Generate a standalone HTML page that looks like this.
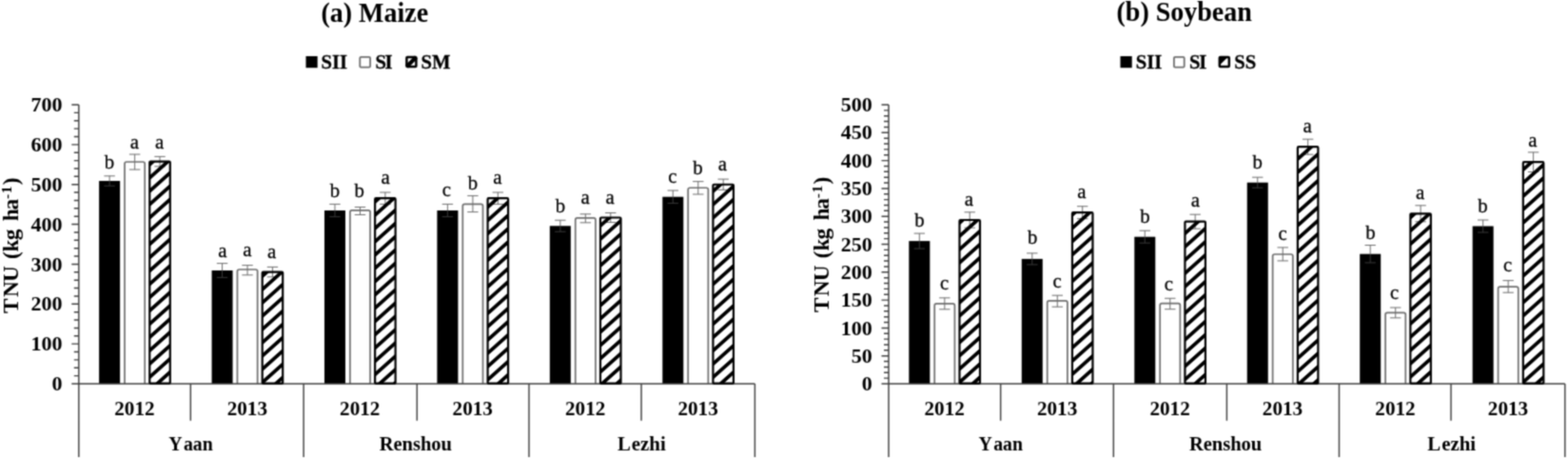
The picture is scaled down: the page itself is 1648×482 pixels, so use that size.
<!DOCTYPE html>
<html lang="en">
<head>
<meta charset="utf-8">
<title>TNU of maize and soybean</title>
<style>
html,body{margin:0;padding:0;background:#fff;}
body{width:1648px;height:482px;overflow:hidden;}
svg{display:block;}
text{font-family:"Liberation Serif", "DejaVu Serif", serif;fill:#000;font-kerning:none;}
.title{font-size:28px;font-weight:bold;}
.leg{font-size:20px;font-weight:bold;stroke:#000;stroke-width:0.3px;}
.lab{font-size:20px;font-weight:bold;}
.loc{font-size:20.5px;font-weight:bold;}
.ytitle{font-size:22.5px;font-weight:bold;}
.sup{font-size:15px;}
.sig{font-size:20px;stroke:#000;stroke-width:0.25px;}
.axis path{fill:none;stroke:#404040;stroke-width:1.45;}
.err path{fill:none;stroke:#6c6c6c;stroke-width:1.0;}
.err .in{stroke:#383838;}
</style>
</head>
<body>
<svg width="1648" height="482" viewBox="0 0 1648 482">
<defs>
<pattern id="hatch" patternUnits="userSpaceOnUse" width="20" height="13.95" patternTransform="translate(0 4.18) matrix(1 -0.895 0 1 0 0)">
<rect x="0" y="0" width="20" height="5.0" fill="#000"/>
</pattern>
<filter id="soft" filterUnits="userSpaceOnUse" x="0" y="0" width="1648" height="482" color-interpolation-filters="sRGB"><feConvolveMatrix order="3" kernelMatrix="0.1453 0.3812 0.1453 0.3812 1.0000 0.3812 0.1453 0.3812 0.1453" divisor="3.1059" edgeMode="duplicate" preserveAlpha="true"/></filter>
</defs>
<g filter="url(#soft)">
<rect x="-10" y="-10" width="1668" height="502" fill="#fff"/>
<g class="chart">
<text class="title" transform="translate(393.75 22.6) scale(1 1.03)" text-anchor="middle">(a) Maize</text>
<rect x="321.5" y="59" width="12.2" height="12.2" fill="#000"/>
<text class="leg" transform="translate(337.5 71.8) scale(1.03 1)" text-anchor="start">SII</text>
<rect x="378.3" y="59.8" width="10.8" height="10.8" rx="1.2" fill="#fff" stroke="#6e6e6e" stroke-width="1.8"/>
<text class="leg" transform="translate(394.4 71.8) scale(1.03 1)" text-anchor="start" letter-spacing="-1.2">SI</text>
<rect x="427.4" y="60" width="10" height="10" rx="0.8" fill="#fff" stroke="#000" stroke-width="2.5"/>
<path d="M427.4 70L437.4 60" stroke="#000" stroke-width="4.2" fill="none"/>
<text class="leg" transform="translate(442.5 71.8) scale(1.03 1)" text-anchor="start">SM</text>
<text class="ytitle" transform="translate(19.3 328.9) rotate(-90) scale(1.035 1)" x="0 16.33 31.79 47.34 54.98 62.32 74.11 85.99 93.33 104.73" y="0">TNU (kg ha<tspan class="sup" x="115.75 121.35" dy="-7.5">-1</tspan><tspan x="130.05" dy="7.5">)</tspan></text>
<rect x="104.12" y="190" width="22" height="213" fill="#000"/>
<g class="err"><path d="M109.42 184.8H120.82M115.12 184.8V190"/><path class="in" d="M115.12 190V195.2M109.42 195.2H120.82"/></g>
<path d="M131.02 403V172Q131.02 170 133.02 170H150.22Q152.22 170 152.22 172V403" fill="#fff" stroke="#6e6e6e" stroke-width="1.7"/>
<g class="err"><path d="M135.92 162.05H147.32M141.62 162.05V170.05"/><path d="M141.62 170.05V178.05M135.92 178.05H147.32"/></g>
<rect x="157.27" y="169.6" width="21.5" height="233.4" fill="#fff"/>
<g class="err"><path d="M162.32 164.4H173.72M168.02 164.4V169.6"/><path d="M168.02 169.6V174.8M162.32 174.8H173.72"/></g>
<text class="sig" transform="translate(114.9 177.2) scale(1.04 1)" text-anchor="middle">b</text>
<text class="sig" transform="translate(141.25 156) scale(1.04 1)" text-anchor="middle">a</text>
<text class="sig" transform="translate(167.5 156) scale(1.04 1)" text-anchor="middle">a</text>
<rect x="222.55" y="284" width="22" height="119" fill="#000"/>
<g class="err"><path d="M227.85 276.6H239.25M233.55 276.6V284"/><path class="in" d="M233.55 284V291.4M227.85 291.4H239.25"/></g>
<path d="M249.45 403V285Q249.45 283 251.45 283H268.65Q270.65 283 270.65 285V403" fill="#fff" stroke="#6e6e6e" stroke-width="1.7"/>
<g class="err"><path d="M254.35 278.6H265.75M260.05 278.6V283.7"/><path d="M260.05 283.7V288.8M254.35 288.8H265.75"/></g>
<rect x="275.7" y="285.6" width="21.5" height="117.4" fill="#fff"/>
<g class="err"><path d="M280.75 280.4H292.15M286.45 280.4V285.6"/><path d="M286.45 285.6V290.8M280.75 290.8H292.15"/></g>
<text class="sig" transform="translate(233.75 269.75) scale(1.04 1)" text-anchor="middle">a</text>
<text class="sig" transform="translate(259.75 268.5) scale(1.04 1)" text-anchor="middle">a</text>
<text class="sig" transform="translate(285.6 271) scale(1.04 1)" text-anchor="middle">a</text>
<rect x="340.98" y="221" width="22" height="182" fill="#000"/>
<g class="err"><path d="M346.28 214.4H357.68M351.98 214.4V221"/><path class="in" d="M351.98 221V227.6M346.28 227.6H357.68"/></g>
<path d="M367.88 403V222.8Q367.88 220.8 369.88 220.8H387.08Q389.08 220.8 389.08 222.8V403" fill="#fff" stroke="#6e6e6e" stroke-width="1.7"/>
<g class="err"><path d="M372.78 217.5H384.18M378.48 217.5V221.5"/><path d="M378.48 221.5V225.5M372.78 225.5H384.18"/></g>
<rect x="394.13" y="208.2" width="21.5" height="194.8" fill="#fff"/>
<g class="err"><path d="M399.18 202H410.58M404.88 202V208.2"/><path d="M404.88 208.2V214.4M399.18 214.4H410.58"/></g>
<text class="sig" transform="translate(352 207.1) scale(1.04 1)" text-anchor="middle">b</text>
<text class="sig" transform="translate(377.7 207.1) scale(1.04 1)" text-anchor="middle">b</text>
<text class="sig" transform="translate(405 193.1) scale(1.04 1)" text-anchor="middle">a</text>
<rect x="459.42" y="221" width="22" height="182" fill="#000"/>
<g class="err"><path d="M464.72 214.4H476.12M470.42 214.4V221"/><path class="in" d="M470.42 221V227.6M464.72 227.6H476.12"/></g>
<path d="M486.32 403V216.4Q486.32 214.4 488.32 214.4H505.52Q507.52 214.4 507.52 216.4V403" fill="#fff" stroke="#6e6e6e" stroke-width="1.7"/>
<g class="err"><path d="M491.22 205.6H502.62M496.92 205.6V214.1"/><path d="M496.92 214.1V222.6M491.22 222.6H502.62"/></g>
<rect x="512.57" y="208.2" width="21.5" height="194.8" fill="#fff"/>
<g class="err"><path d="M517.62 202H529.02M523.32 202V208.2"/><path d="M523.32 208.2V214.4M517.62 214.4H529.02"/></g>
<text class="sig" transform="translate(469.4 206) scale(1.04 1)" text-anchor="middle">c</text>
<text class="sig" transform="translate(496.9 198.8) scale(1.04 1)" text-anchor="middle">b</text>
<text class="sig" transform="translate(522.75 193.1) scale(1.04 1)" text-anchor="middle">a</text>
<rect x="577.85" y="237.25" width="22" height="165.75" fill="#000"/>
<g class="err"><path d="M583.15 231.25H594.55M588.85 231.25V237.25"/><path class="in" d="M588.85 237.25V243.25M583.15 243.25H594.55"/></g>
<path d="M604.75 403V230.9Q604.75 228.9 606.75 228.9H623.95Q625.95 228.9 625.95 230.9V403" fill="#fff" stroke="#6e6e6e" stroke-width="1.7"/>
<g class="err"><path d="M609.65 224.8H621.05M615.35 224.8V229.3"/><path d="M615.35 229.3V233.8M609.65 233.8H621.05"/></g>
<rect x="631" y="228.5" width="21.5" height="174.5" fill="#fff"/>
<g class="err"><path d="M636.05 223.5H647.45M641.75 223.5V228.5"/><path d="M641.75 228.5V233.5M636.05 233.5H647.45"/></g>
<text class="sig" transform="translate(589 223.1) scale(1.04 1)" text-anchor="middle">b</text>
<text class="sig" transform="translate(615 213.5) scale(1.04 1)" text-anchor="middle">a</text>
<text class="sig" transform="translate(641 213.5) scale(1.04 1)" text-anchor="middle">a</text>
<rect x="696.28" y="206.7" width="22" height="196.3" fill="#000"/>
<g class="err"><path d="M701.58 200H712.98M707.28 200V206.7"/><path class="in" d="M707.28 206.7V213.4M701.58 213.4H712.98"/></g>
<path d="M723.18 403V199.25Q723.18 197.25 725.18 197.25H742.38Q744.38 197.25 744.38 199.25V403" fill="#fff" stroke="#6e6e6e" stroke-width="1.7"/>
<g class="err"><path d="M728.08 190.6H739.48M733.78 190.6V197.3"/><path d="M733.78 197.3V204M728.08 204H739.48"/></g>
<rect x="749.43" y="193.75" width="21.5" height="209.25" fill="#fff"/>
<g class="err"><path d="M754.48 188.15H765.88M760.18 188.15V193.75"/><path d="M760.18 193.75V199.35M754.48 199.35H765.88"/></g>
<text class="sig" transform="translate(706.9 191.9) scale(1.04 1)" text-anchor="middle">c</text>
<text class="sig" transform="translate(733.5 183.1) scale(1.04 1)" text-anchor="middle">b</text>
<text class="sig" transform="translate(759.4 179.4) scale(1.04 1)" text-anchor="middle">a</text>
<g class="axis">
<path d="M82.8 110V403M75.3 403H793.4M75.3 403H82.8M77.8 394.63H82.8M77.8 386.26H82.8M77.8 377.89H82.8M77.8 369.51H82.8M75.3 361.14H82.8M77.8 352.77H82.8M77.8 344.4H82.8M77.8 336.03H82.8M77.8 327.66H82.8M75.3 319.29H82.8M77.8 310.91H82.8M77.8 302.54H82.8M77.8 294.17H82.8M77.8 285.8H82.8M75.3 277.43H82.8M77.8 269.06H82.8M77.8 260.69H82.8M77.8 252.31H82.8M77.8 243.94H82.8M75.3 235.57H82.8M77.8 227.2H82.8M77.8 218.83H82.8M77.8 210.46H82.8M77.8 202.09H82.8M75.3 193.71H82.8M77.8 185.34H82.8M77.8 176.97H82.8M77.8 168.6H82.8M77.8 160.23H82.8M75.3 151.86H82.8M77.8 143.49H82.8M77.8 135.11H82.8M77.8 126.74H82.8M77.8 118.37H82.8M75.3 110H82.8M82.8 403V480M200.33 403V441.7M319.12 403V480M438.3 403V441.7M555.98 403V480M674.02 403V441.7M793.4 403V480"/>
</g>
<rect x="157.27" y="169.6" width="21.5" height="233.1" rx="1" fill="url(#hatch)" stroke="#000" stroke-width="2.2"/>
<rect x="275.7" y="285.6" width="21.5" height="117.1" rx="1" fill="url(#hatch)" stroke="#000" stroke-width="2.2"/>
<rect x="394.13" y="208.2" width="21.5" height="194.5" rx="1" fill="url(#hatch)" stroke="#000" stroke-width="2.2"/>
<rect x="512.57" y="208.2" width="21.5" height="194.5" rx="1" fill="url(#hatch)" stroke="#000" stroke-width="2.2"/>
<rect x="631" y="228.5" width="21.5" height="174.2" rx="1" fill="url(#hatch)" stroke="#000" stroke-width="2.2"/>
<rect x="749.43" y="193.75" width="21.5" height="208.95" rx="1" fill="url(#hatch)" stroke="#000" stroke-width="2.2"/>
<text class="lab" transform="translate(65.5 410.1) scale(1.1 1)" text-anchor="end">0</text>
<text class="lab" transform="translate(65.5 368.24) scale(1.1 1)" text-anchor="end">100</text>
<text class="lab" transform="translate(65.5 326.39) scale(1.1 1)" text-anchor="end">200</text>
<text class="lab" transform="translate(65.5 284.53) scale(1.1 1)" text-anchor="end">300</text>
<text class="lab" transform="translate(65.5 242.67) scale(1.1 1)" text-anchor="end">400</text>
<text class="lab" transform="translate(65.5 200.81) scale(1.1 1)" text-anchor="end">500</text>
<text class="lab" transform="translate(65.5 158.96) scale(1.1 1)" text-anchor="end">600</text>
<text class="lab" transform="translate(65.5 117.1) scale(1.1 1)" text-anchor="end">700</text>
<text class="lab" transform="translate(141.42 435.7) scale(1.06 1)" text-anchor="middle">2012</text>
<text class="lab" transform="translate(259.85 435.7) scale(1.06 1)" text-anchor="middle">2013</text>
<text class="lab" transform="translate(378.28 435.7) scale(1.06 1)" text-anchor="middle">2012</text>
<text class="lab" transform="translate(496.72 435.7) scale(1.06 1)" text-anchor="middle">2013</text>
<text class="lab" transform="translate(615.15 435.7) scale(1.06 1)" text-anchor="middle">2012</text>
<text class="lab" transform="translate(733.58 435.7) scale(1.06 1)" text-anchor="middle">2013</text>
<text class="loc" transform="translate(200.43 473.2) scale(0.965 1)" text-anchor="middle">Y<tspan dx="1.6">a</tspan>an</text>
<text class="loc" x="436.8" y="473.2" text-anchor="middle">Renshou</text>
<text class="loc" transform="translate(674.37 473.2) scale(1.02 1)" text-anchor="middle">L<tspan dx="0.8">e</tspan>zhi</text>
</g>
<g class="chart">
<text class="title" transform="translate(1244.7 22.4) scale(1 1.03)" text-anchor="middle">(b) Soybean</text>
<rect x="1177.5" y="59" width="12.2" height="12.2" fill="#000"/>
<text class="leg" transform="translate(1193.75 71.8) scale(1.03 1)" text-anchor="start">SII</text>
<rect x="1233.9" y="59.8" width="10.8" height="10.8" rx="1.2" fill="#fff" stroke="#6e6e6e" stroke-width="1.8"/>
<text class="leg" transform="translate(1250 71.8) scale(1.03 1)" text-anchor="start" letter-spacing="-1.2">SI</text>
<rect x="1281.8" y="60" width="10" height="10" rx="0.8" fill="#fff" stroke="#000" stroke-width="2.5"/>
<path d="M1281.8 60H1290.4L1281.8 68.6Z" fill="#000"/>
<text class="leg" transform="translate(1297.25 71.8) scale(1.03 1)" text-anchor="start">SS</text>
<text class="ytitle" transform="translate(871.4 328.1) rotate(-90) scale(1.035 1)" x="0 16.33 31.79 47.34 54.98 62.32 74.11 85.99 93.33 104.73" y="0">TNU (kg ha<tspan class="sup" x="115.75 121.35" dy="-7.5">-1</tspan><tspan x="130.05" dy="7.5">)</tspan></text>
<rect x="955.33" y="253.1" width="22" height="149.9" fill="#000"/>
<g class="err"><path d="M960.63 245.1H972.03M966.33 245.1V253.1"/><path class="in" d="M966.33 253.1V261.1M960.63 261.1H972.03"/></g>
<path d="M982.23 403V320.9Q982.23 318.9 984.23 318.9H1001.43Q1003.43 318.9 1003.43 320.9V403" fill="#fff" stroke="#6e6e6e" stroke-width="1.7"/>
<g class="err"><path d="M987.13 312.8H998.53M992.83 312.8V318.8"/><path d="M992.83 318.8V324.8M987.13 324.8H998.53"/></g>
<rect x="1008.48" y="231" width="21.5" height="172" fill="#fff"/>
<g class="err"><path d="M1013.53 222.8H1024.93M1019.23 222.8V231"/><path d="M1019.23 231V239.2M1013.53 239.2H1024.93"/></g>
<text class="sig" transform="translate(966.4 238.4) scale(1.04 1)" text-anchor="middle">b</text>
<text class="sig" transform="translate(992.5 304.2) scale(1.04 1)" text-anchor="middle">c</text>
<text class="sig" transform="translate(1018.4 215.9) scale(1.04 1)" text-anchor="middle">a</text>
<rect x="1073.8" y="271.9" width="22" height="131.1" fill="#000"/>
<g class="err"><path d="M1079.1 265.9H1090.5M1084.8 265.9V271.9"/><path class="in" d="M1084.8 271.9V277.9M1079.1 277.9H1090.5"/></g>
<path d="M1100.7 403V317.9Q1100.7 315.9 1102.7 315.9H1119.9Q1121.9 315.9 1121.9 317.9V403" fill="#fff" stroke="#6e6e6e" stroke-width="1.7"/>
<g class="err"><path d="M1105.6 310.2H1117M1111.3 310.2V316.2"/><path d="M1111.3 316.2V322.2M1105.6 322.2H1117"/></g>
<rect x="1126.95" y="223.2" width="21.5" height="179.8" fill="#fff"/>
<g class="err"><path d="M1132 216.7H1143.4M1137.7 216.7V223.2"/><path d="M1137.7 223.2V229.7M1132 229.7H1143.4"/></g>
<text class="sig" transform="translate(1085.2 255.9) scale(1.04 1)" text-anchor="middle">b</text>
<text class="sig" transform="translate(1111 301.7) scale(1.04 1)" text-anchor="middle">c</text>
<text class="sig" transform="translate(1136.9 207.5) scale(1.04 1)" text-anchor="middle">a</text>
<rect x="1192.27" y="248.7" width="22" height="154.3" fill="#000"/>
<g class="err"><path d="M1197.57 242.2H1208.97M1203.27 242.2V248.7"/><path class="in" d="M1203.27 248.7V255.2M1197.57 255.2H1208.97"/></g>
<path d="M1219.17 403V320.7Q1219.17 318.7 1221.17 318.7H1238.37Q1240.37 318.7 1240.37 320.7V403" fill="#fff" stroke="#6e6e6e" stroke-width="1.7"/>
<g class="err"><path d="M1224.07 313.3H1235.47M1229.77 313.3V319"/><path d="M1229.77 319V324.7M1224.07 324.7H1235.47"/></g>
<rect x="1245.42" y="232.7" width="21.5" height="170.3" fill="#fff"/>
<g class="err"><path d="M1250.47 225.2H1261.87M1256.17 225.2V232.7"/><path d="M1256.17 232.7V240.2M1250.47 240.2H1261.87"/></g>
<text class="sig" transform="translate(1203.4 234.2) scale(1.04 1)" text-anchor="middle">b</text>
<text class="sig" transform="translate(1228.4 304.7) scale(1.04 1)" text-anchor="middle">c</text>
<text class="sig" transform="translate(1256.4 217) scale(1.04 1)" text-anchor="middle">a</text>
<rect x="1310.73" y="191.7" width="22" height="211.3" fill="#000"/>
<g class="err"><path d="M1316.03 186.2H1327.43M1321.73 186.2V191.7"/><path class="in" d="M1321.73 191.7V197.2M1316.03 197.2H1327.43"/></g>
<path d="M1337.63 403V269Q1337.63 267 1339.63 267H1356.83Q1358.83 267 1358.83 269V403" fill="#fff" stroke="#6e6e6e" stroke-width="1.7"/>
<g class="err"><path d="M1342.53 259.9H1353.93M1348.23 259.9V266.9"/><path d="M1348.23 266.9V273.9M1342.53 273.9H1353.93"/></g>
<rect x="1363.88" y="154.2" width="21.5" height="248.8" fill="#fff"/>
<g class="err"><path d="M1368.93 146.2H1380.33M1374.63 146.2V154.2"/><path d="M1374.63 154.2V162.2M1368.93 162.2H1380.33"/></g>
<text class="sig" transform="translate(1321.7 177) scale(1.04 1)" text-anchor="middle">b</text>
<text class="sig" transform="translate(1348 251.7) scale(1.04 1)" text-anchor="middle">c</text>
<text class="sig" transform="translate(1374.2 138.7) scale(1.04 1)" text-anchor="middle">a</text>
<rect x="1429.2" y="266.7" width="22" height="136.3" fill="#000"/>
<g class="err"><path d="M1434.5 257.5H1445.9M1440.2 257.5V266.7"/><path class="in" d="M1440.2 266.7V275.9M1434.5 275.9H1445.9"/></g>
<path d="M1456.1 403V330.3Q1456.1 328.3 1458.1 328.3H1475.3Q1477.3 328.3 1477.3 330.3V403" fill="#fff" stroke="#6e6e6e" stroke-width="1.7"/>
<g class="err"><path d="M1461 323H1472.4M1466.7 323V328.4"/><path d="M1466.7 328.4V333.8M1461 333.8H1472.4"/></g>
<rect x="1482.35" y="224.3" width="21.5" height="178.7" fill="#fff"/>
<g class="err"><path d="M1487.4 215.8H1498.8M1493.1 215.8V224.3"/><path d="M1493.1 224.3V232.8M1487.4 232.8H1498.8"/></g>
<text class="sig" transform="translate(1440.5 250.8) scale(1.04 1)" text-anchor="middle">b</text>
<text class="sig" transform="translate(1465.5 313.7) scale(1.04 1)" text-anchor="middle">c</text>
<text class="sig" transform="translate(1492.7 208.7) scale(1.04 1)" text-anchor="middle">a</text>
<rect x="1547.67" y="237.5" width="22" height="165.5" fill="#000"/>
<g class="err"><path d="M1552.97 231H1564.37M1558.67 231V237.5"/><path class="in" d="M1558.67 237.5V244M1552.97 244H1564.37"/></g>
<path d="M1574.57 403V303.2Q1574.57 301.2 1576.57 301.2H1593.77Q1595.77 301.2 1595.77 303.2V403" fill="#fff" stroke="#6e6e6e" stroke-width="1.7"/>
<g class="err"><path d="M1579.47 294.6H1590.87M1585.17 294.6V300.9"/><path d="M1585.17 300.9V307.2M1579.47 307.2H1590.87"/></g>
<rect x="1600.82" y="170.2" width="21.5" height="232.8" fill="#fff"/>
<g class="err"><path d="M1605.87 159.9H1617.27M1611.57 159.9V170.2"/><path d="M1611.57 170.2V180.5M1605.87 180.5H1617.27"/></g>
<text class="sig" transform="translate(1558.5 222.5) scale(1.04 1)" text-anchor="middle">b</text>
<text class="sig" transform="translate(1584.7 285.3) scale(1.04 1)" text-anchor="middle">c</text>
<text class="sig" transform="translate(1610.8 154.2) scale(1.04 1)" text-anchor="middle">a</text>
<g class="axis">
<path d="M934 110V403M926.5 403H1644.8M926.5 403H934M929 397.14H934M929 391.28H934M929 385.42H934M929 379.56H934M926.5 373.7H934M929 367.84H934M929 361.98H934M929 356.12H934M929 350.26H934M926.5 344.4H934M929 338.54H934M929 332.68H934M929 326.82H934M929 320.96H934M926.5 315.1H934M929 309.24H934M929 303.38H934M929 297.52H934M929 291.66H934M926.5 285.8H934M929 279.94H934M929 274.08H934M929 268.22H934M929 262.36H934M926.5 256.5H934M929 250.64H934M929 244.78H934M929 238.92H934M929 233.06H934M926.5 227.2H934M929 221.34H934M929 215.48H934M929 209.62H934M929 203.76H934M926.5 197.9H934M929 192.04H934M929 186.18H934M929 180.32H934M929 174.46H934M926.5 168.6H934M929 162.74H934M929 156.88H934M929 151.02H934M929 145.16H934M926.5 139.3H934M929 133.44H934M929 127.58H934M929 121.72H934M929 115.86H934M926.5 110H934M934 403V480M1051.67 403V441.7M1170.33 403V480M1289.4 403V441.7M1407.47 403V480M1525.03 403V441.7M1644.8 403V480"/>
</g>
<rect x="1008.48" y="231" width="21.5" height="171.7" rx="1" fill="url(#hatch)" stroke="#000" stroke-width="2.2"/>
<rect x="1126.95" y="223.2" width="21.5" height="179.5" rx="1" fill="url(#hatch)" stroke="#000" stroke-width="2.2"/>
<rect x="1245.42" y="232.7" width="21.5" height="170" rx="1" fill="url(#hatch)" stroke="#000" stroke-width="2.2"/>
<rect x="1363.88" y="154.2" width="21.5" height="248.5" rx="1" fill="url(#hatch)" stroke="#000" stroke-width="2.2"/>
<rect x="1482.35" y="224.3" width="21.5" height="178.4" rx="1" fill="url(#hatch)" stroke="#000" stroke-width="2.2"/>
<rect x="1600.82" y="170.2" width="21.5" height="232.5" rx="1" fill="url(#hatch)" stroke="#000" stroke-width="2.2"/>
<text class="lab" transform="translate(916.7 410.1) scale(1.1 1)" text-anchor="end">0</text>
<text class="lab" transform="translate(916.7 380.8) scale(1.1 1)" text-anchor="end">50</text>
<text class="lab" transform="translate(916.7 351.5) scale(1.1 1)" text-anchor="end">100</text>
<text class="lab" transform="translate(916.7 322.2) scale(1.1 1)" text-anchor="end">150</text>
<text class="lab" transform="translate(916.7 292.9) scale(1.1 1)" text-anchor="end">200</text>
<text class="lab" transform="translate(916.7 263.6) scale(1.1 1)" text-anchor="end">250</text>
<text class="lab" transform="translate(916.7 234.3) scale(1.1 1)" text-anchor="end">300</text>
<text class="lab" transform="translate(916.7 205) scale(1.1 1)" text-anchor="end">350</text>
<text class="lab" transform="translate(916.7 175.7) scale(1.1 1)" text-anchor="end">400</text>
<text class="lab" transform="translate(916.7 146.4) scale(1.1 1)" text-anchor="end">450</text>
<text class="lab" transform="translate(916.7 117.1) scale(1.1 1)" text-anchor="end">500</text>
<text class="lab" transform="translate(992.63 435.7) scale(1.06 1)" text-anchor="middle">2012</text>
<text class="lab" transform="translate(1111.1 435.7) scale(1.06 1)" text-anchor="middle">2013</text>
<text class="lab" transform="translate(1229.57 435.7) scale(1.06 1)" text-anchor="middle">2012</text>
<text class="lab" transform="translate(1348.03 435.7) scale(1.06 1)" text-anchor="middle">2013</text>
<text class="lab" transform="translate(1466.5 435.7) scale(1.06 1)" text-anchor="middle">2012</text>
<text class="lab" transform="translate(1584.97 435.7) scale(1.06 1)" text-anchor="middle">2013</text>
<text class="loc" transform="translate(1051.67 473.2) scale(0.965 1)" text-anchor="middle">Y<tspan dx="1.6">a</tspan>an</text>
<text class="loc" x="1288.1" y="473.2" text-anchor="middle">Renshou</text>
<text class="loc" transform="translate(1525.73 473.2) scale(1.02 1)" text-anchor="middle">L<tspan dx="0.8">e</tspan>zhi</text>
</g>
</g>
</svg>
</body>
</html>
